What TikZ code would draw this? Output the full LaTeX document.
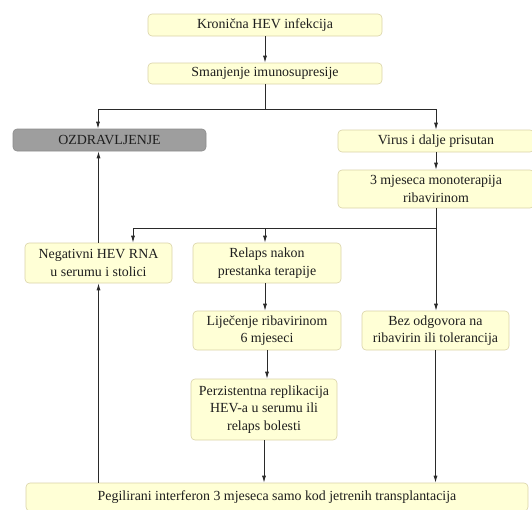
\documentclass[tikz,border=0pt]{standalone}
\usepackage{fontspec}
\setmainfont{Liberation Serif}
\usetikzlibrary{arrows.meta}
\definecolor{boxfill}{HTML}{FFFFD6}
\definecolor{boxdraw}{HTML}{D9D3A8}
\definecolor{grayfill}{HTML}{9E9E9E}
\definecolor{graydraw}{HTML}{8C8C8C}
\definecolor{linecol}{HTML}{2A2A2A}
\definecolor{txtcol}{HTML}{1E1E1E}
\begin{document}
\begin{tikzpicture}[x=1pt,y=-1pt,
  box/.style={draw=boxdraw, fill=boxfill, rounded corners=4pt, line width=0.6pt,
    align=center, inner sep=0pt, font=\fontsize{13.9}{17.5}\selectfont, text=txtcol},
  gbox/.style={box, draw=graydraw, fill=grayfill},
  conn/.style={draw=linecol, line width=0.8pt},
  arr/.style={conn, -{Latex[length=7pt,width=4pt]}}]
\useasboundingbox (0,0) rectangle (532,509);
\clip (0,0) rectangle (532,509);
\node[box, minimum width=234pt, minimum height=22pt] (k1) at (265,25) {Kronična HEV infekcija};
\node[box, minimum width=234pt, minimum height=21pt] (k2) at (265,73.5) {Smanjenje imunosupresije};
\node[gbox, minimum width=193pt, minimum height=22pt] (ozd) at (109.5,140) {OZDRAVLJENJE};
\node[box, minimum width=196pt, minimum height=22pt] (virus) at (436,141) {Virus i dalje prisutan};
\node[box, minimum width=196pt, minimum height=38pt] (mjes) at (436,189) {3 mjeseca monoterapija\\ribavirinom};
\node[box, minimum width=147pt, minimum height=40pt] (neg) at (98.5,263) {Negativni HEV RNA\\u serumu i stolici};
\node[box, minimum width=148pt, minimum height=40pt] (rel) at (267,263) {Relaps nakon\\prestanka terapije};
\node[box, minimum width=148pt, minimum height=39pt] (lij) at (267,330.5) {Liječenje ribavirinom\\6 mjeseci};
\node[box, minimum width=147pt, minimum height=39pt] (bez) at (435.5,330.5) {Bez odgovora na\\ribavirin ili tolerancija};
\node[box, minimum width=146pt, minimum height=61pt] (perz) at (264,409.5) {Perzistentna replikacija\\HEV-a u serumu ili\\relaps bolesti};
\node[box, minimum width=502pt, minimum height=28pt] (peg) at (277,497) {Pegilirani interferon 3 mjeseca samo kod jetrenih transplantacija};
\coordinate (s1) at (265,109);
\coordinate (s1l) at (98,109);
\coordinate (s1r) at (436,109);
\coordinate (s2) at (436,228);
\coordinate (s2l) at (133,228);
\coordinate (s2m) at (265,228);
\draw[arr] (k1) -- (k2);
\draw[conn] (k2.south) -- (s1);
\draw[conn] (s1l) -- (s1r);
\draw[arr] (s1l) -- (s1l |- ozd.north);
\draw[arr] (s1r) -- (virus.north);
\draw[arr] (virus) -- (mjes);
\draw[conn] (mjes.south) -- (s2) -- (s2l);
\draw[arr] (s2l) -- (s2l |- neg.north);
\draw[arr] (s2m) -- (s2m |- rel.north);
\draw[arr] (s2) -- (s2 |- bez.north);
\draw[arr] (s2m |- rel.south) -- (s2m |- lij.north);
\draw[arr] (lij.south) -- (lij.south |- perz.north);
\draw[arr] (perz.south) -- (perz.south |- peg.north);
\draw[arr] (bez.south) -- (bez.south |- peg.north);
\draw[arr] (neg.south |- peg.north) -- (neg.south);
\draw[arr] (neg.north) -- (neg.north |- ozd.south);
\end{tikzpicture}
\end{document}
